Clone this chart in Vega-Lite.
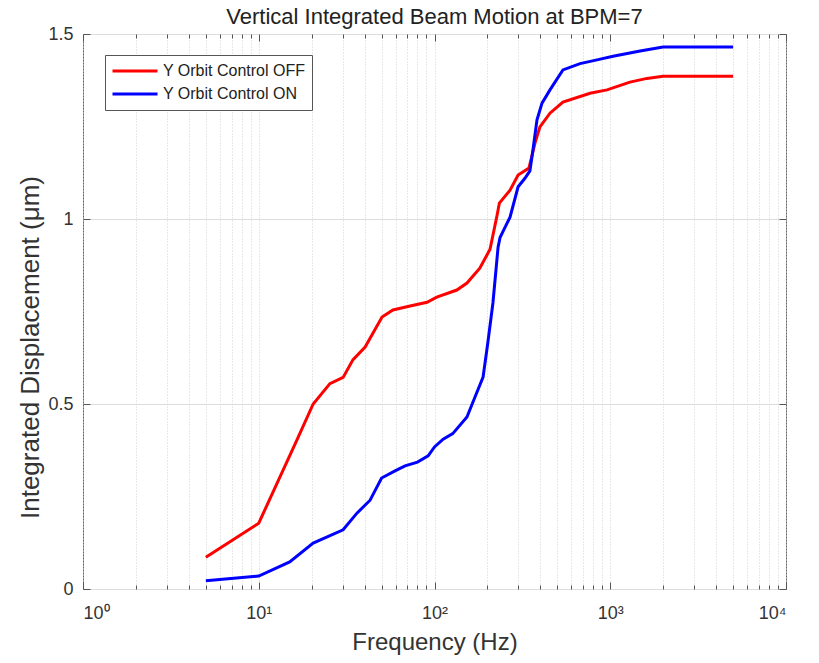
{
  "$schema": "https://vega.github.io/schema/vega-lite/v6.json",
  "width": 703,
  "height": 555,
  "autosize": {"type": "none"},
  "padding": {"left": 83, "top": 34, "right": 33, "bottom": 74},
  "background": "white",
  "title": {"text": "Vertical Integrated Beam Motion at BPM=7", "fontSize": 22, "fontWeight": "normal", "font": "Liberation Sans", "color": "#222222", "offset": -4},
  "config": {
    "view": {"stroke": "#666666", "strokeWidth": 1},
    "font": "Liberation Sans"
  },
  "data": {"values": [
    {"series": "Y Orbit Control OFF", "f": 5, "d": 0.086},
    {"series": "Y Orbit Control OFF", "f": 10, "d": 0.178},
    {"series": "Y Orbit Control OFF", "f": 16.5, "d": 0.403},
    {"series": "Y Orbit Control OFF", "f": 20.4, "d": 0.5},
    {"series": "Y Orbit Control OFF", "f": 25.4, "d": 0.555},
    {"series": "Y Orbit Control OFF", "f": 30.2, "d": 0.572},
    {"series": "Y Orbit Control OFF", "f": 34.4, "d": 0.62},
    {"series": "Y Orbit Control OFF", "f": 40.3, "d": 0.654},
    {"series": "Y Orbit Control OFF", "f": 50.3, "d": 0.735},
    {"series": "Y Orbit Control OFF", "f": 58, "d": 0.754},
    {"series": "Y Orbit Control OFF", "f": 72.6, "d": 0.765},
    {"series": "Y Orbit Control OFF", "f": 90.7, "d": 0.775},
    {"series": "Y Orbit Control OFF", "f": 103, "d": 0.789},
    {"series": "Y Orbit Control OFF", "f": 134, "d": 0.808},
    {"series": "Y Orbit Control OFF", "f": 153, "d": 0.827},
    {"series": "Y Orbit Control OFF", "f": 181, "d": 0.867},
    {"series": "Y Orbit Control OFF", "f": 207, "d": 0.918},
    {"series": "Y Orbit Control OFF", "f": 227, "d": 1.01},
    {"series": "Y Orbit Control OFF", "f": 234, "d": 1.043},
    {"series": "Y Orbit Control OFF", "f": 269, "d": 1.078},
    {"series": "Y Orbit Control OFF", "f": 299, "d": 1.119},
    {"series": "Y Orbit Control OFF", "f": 345, "d": 1.138},
    {"series": "Y Orbit Control OFF", "f": 373, "d": 1.205},
    {"series": "Y Orbit Control OFF", "f": 398, "d": 1.249},
    {"series": "Y Orbit Control OFF", "f": 454, "d": 1.286},
    {"series": "Y Orbit Control OFF", "f": 538, "d": 1.316},
    {"series": "Y Orbit Control OFF", "f": 767, "d": 1.34},
    {"series": "Y Orbit Control OFF", "f": 959, "d": 1.349},
    {"series": "Y Orbit Control OFF", "f": 1294, "d": 1.37},
    {"series": "Y Orbit Control OFF", "f": 1618, "d": 1.38},
    {"series": "Y Orbit Control OFF", "f": 1995, "d": 1.386},
    {"series": "Y Orbit Control OFF", "f": 5000, "d": 1.386},
    {"series": "Y Orbit Control ON", "f": 5, "d": 0.022},
    {"series": "Y Orbit Control ON", "f": 10, "d": 0.035},
    {"series": "Y Orbit Control ON", "f": 15, "d": 0.073},
    {"series": "Y Orbit Control ON", "f": 20.4, "d": 0.124},
    {"series": "Y Orbit Control ON", "f": 30.2, "d": 0.16},
    {"series": "Y Orbit Control ON", "f": 36.2, "d": 0.205},
    {"series": "Y Orbit Control ON", "f": 43, "d": 0.24},
    {"series": "Y Orbit Control ON", "f": 50, "d": 0.3},
    {"series": "Y Orbit Control ON", "f": 60, "d": 0.32},
    {"series": "Y Orbit Control ON", "f": 68, "d": 0.333},
    {"series": "Y Orbit Control ON", "f": 80, "d": 0.343},
    {"series": "Y Orbit Control ON", "f": 92, "d": 0.36},
    {"series": "Y Orbit Control ON", "f": 100, "d": 0.384},
    {"series": "Y Orbit Control ON", "f": 112, "d": 0.405},
    {"series": "Y Orbit Control ON", "f": 127, "d": 0.42},
    {"series": "Y Orbit Control ON", "f": 153, "d": 0.465},
    {"series": "Y Orbit Control ON", "f": 170, "d": 0.519},
    {"series": "Y Orbit Control ON", "f": 189, "d": 0.573},
    {"series": "Y Orbit Control ON", "f": 201, "d": 0.665},
    {"series": "Y Orbit Control ON", "f": 215, "d": 0.773},
    {"series": "Y Orbit Control ON", "f": 230, "d": 0.924},
    {"series": "Y Orbit Control ON", "f": 236, "d": 0.95},
    {"series": "Y Orbit Control ON", "f": 269, "d": 1.005},
    {"series": "Y Orbit Control ON", "f": 299, "d": 1.087},
    {"series": "Y Orbit Control ON", "f": 327, "d": 1.11},
    {"series": "Y Orbit Control ON", "f": 349, "d": 1.13},
    {"series": "Y Orbit Control ON", "f": 363, "d": 1.186},
    {"series": "Y Orbit Control ON", "f": 383, "d": 1.268},
    {"series": "Y Orbit Control ON", "f": 409, "d": 1.313},
    {"series": "Y Orbit Control ON", "f": 454, "d": 1.349},
    {"series": "Y Orbit Control ON", "f": 538, "d": 1.403},
    {"series": "Y Orbit Control ON", "f": 673, "d": 1.42},
    {"series": "Y Orbit Control ON", "f": 841, "d": 1.43},
    {"series": "Y Orbit Control ON", "f": 1037, "d": 1.44},
    {"series": "Y Orbit Control ON", "f": 1479, "d": 1.454},
    {"series": "Y Orbit Control ON", "f": 1995, "d": 1.465},
    {"series": "Y Orbit Control ON", "f": 5000, "d": 1.465}
  ]},
  "resolve": {"axis": {"x": "independent", "y": "independent"}},
  "layer": [
    {
      "mark": {"type": "line", "strokeWidth": 3, "opacity": 0},
      "encoding": {
        "x": {"field": "f", "type": "quantitative",
          "scale": {"type": "log", "domain": [1, 10000]},
          "axis": {"orient": "top", "values": [1,2,3,4,5,6,7,8,9,10,20,30,40,50,60,70,80,90,100,200,300,400,500,600,700,800,900,1000,2000,3000,4000,5000,6000,7000,8000,9000,10000],
            "labels": false, "title": null, "domain": false, "grid": false, "tickColor": "#555555",
            "tickSize": {"condition": {"test": "abs(log(datum.value)/LN10 - round(log(datum.value)/LN10)) < 0.001", "value": -7}, "value": -4}}},
        "y": {"field": "d", "type": "quantitative",
          "scale": {"domain": [0, 1.5]},
          "axis": {"orient": "right", "values": [0, 0.5, 1, 1.5], "labels": false, "title": null, "domain": false, "grid": false, "tickSize": -7, "tickColor": "#555555"}},
        "detail": {"field": "series"}
      }
    },
    {
      "mark": {"type": "line", "strokeWidth": 3},
      "encoding": {
        "x": {"field": "f", "type": "quantitative",
          "scale": {"type": "log", "domain": [1, 10000]},
          "axis": {"orient": "bottom", "values": [1,2,3,4,5,6,7,8,9,10,20,30,40,50,60,70,80,90,100,200,300,400,500,600,700,800,900,1000,2000,3000,4000,5000,6000,7000,8000,9000,10000],
            "title": "Frequency (Hz)", "titleFontSize": 24, "titleFontWeight": "normal", "titleColor": "#333333", "titlePadding": 8,
            "labelFontSize": 18, "labelColor": "#333333", "labelPadding": 22,
            "labelExpr": "datum.value == 1 ? '10⁰' : datum.value == 10 ? '10¹' : datum.value == 100 ? '10²' : datum.value == 1000 ? '10³' : datum.value == 10000 ? '10⁴' : ''",
            "domain": false, "tickColor": "#555555",
            "tickSize": {"condition": {"test": "abs(log(datum.value)/LN10 - round(log(datum.value)/LN10)) < 0.001", "value": -7}, "value": -4},
            "grid": true, "gridColor": "#d0d0d0", "gridDash": [1, 2], "gridWidth": 1}},
        "y": {"field": "d", "type": "quantitative",
          "scale": {"domain": [0, 1.5]},
          "axis": {"orient": "left", "values": [0, 0.5, 1, 1.5], "format": "~g",
            "title": "Integrated Displacement (μm)", "titleFontSize": 26, "titleFontWeight": "normal", "titleColor": "#333333", "titlePadding": 4, "titleY": 313,
            "labelFontSize": 18, "labelColor": "#333333", "labelPadding": 17,
            "domain": false, "tickSize": -7, "tickColor": "#555555",
            "grid": true, "gridColor": "#dddddd", "gridWidth": 1}},
        "color": {"field": "series", "type": "nominal",
          "scale": {"domain": ["Y Orbit Control OFF", "Y Orbit Control ON"], "range": ["#ff0000", "#0000ff"]},
          "legend": {"orient": "none", "legendX": 22, "legendY": 21, "title": null,
            "symbolType": "stroke", "symbolSize": 2025, "symbolStrokeWidth": 3,
            "labelFontSize": 16, "labelColor": "#222222", "labelOffset": 4,
            "clipHeight": 20, "rowPadding": 3, "padding": 6,
            "strokeColor": "#555555", "fillColor": "white"}}
      }
    }
  ]
}
